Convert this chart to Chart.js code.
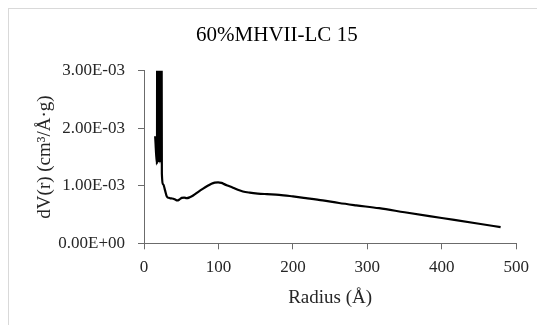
<!DOCTYPE html>
<html>
<head>
<meta charset="utf-8">
<script src="https://cdn.jsdelivr.net/npm/chart.js@4.4.0/dist/chart.umd.min.js"></script>
<style>
  html, body { margin: 0; padding: 0; background: #fff; }
  #wrap { position: relative; width: 537px; height: 325px; overflow: hidden; }
  #frame { position: absolute; left: 8px; top: 8px; width: 560px; height: 360px; border: 1px solid #d9d9d9; }
  #chart { position: absolute; left: 0; top: 0; }
</style>
</head>
<body>
<div id="wrap">
  <div id="frame"></div>
  <canvas id="chart" width="537" height="325"></canvas>
</div>
<script>
// pore radius (Å) and dV(r) (cm3/Å·g)
const radius = [15.0, 17.4, 18.0, 18.5, 19.0, 19.5, 20.0, 20.5, 21.0, 21.5, 22.0, 22.5, 23.0, 24.0, 26.0, 28.3, 30.6, 33.0, 36.5, 39.4, 42.0, 44.7, 47.5, 50.6, 54.0, 57.3, 61.5, 66.0, 72.5, 79.4, 85.0, 90.6, 95.0, 99.5, 104.0, 108.4, 114.0, 119.5, 126.0, 132.8, 142.0, 152.9, 165.0, 181.6, 200.0, 217.5, 240.0, 262.0, 285.0, 315.8, 350.0, 400.0, 450.0, 479.0];
const dV = [0.00186, 0.00137, 0.0080, 0.0014, 0.0080, 0.0015, 0.0080, 0.0014, 0.0080, 0.0015, 0.0080, 0.0014, 0.0080, 0.00121, 0.00102, 0.00092, 0.000815, 0.00079, 0.00078, 0.000775, 0.00076, 0.000745, 0.00076, 0.00079, 0.000795, 0.000785, 0.0008, 0.00083, 0.00089, 0.00095, 0.000995, 0.001036, 0.001055, 0.00106, 0.00105, 0.001024, 0.000995, 0.000966, 0.00093, 0.0009, 0.00088, 0.000865, 0.000855, 0.000843, 0.000815, 0.000785, 0.000745, 0.0007, 0.00066, 0.00061, 0.00054, 0.00044, 0.00034, 0.00028];
const xTicks = [0, 100, 200, 300, 400, 500];
const yTicks = [0, 0.001, 0.002, 0.003];

const textColor = '#262626';
const axisColor = '#6b6b6b';
const serif = "'Liberation Serif', 'DejaVu Serif', serif";

function sciLabel(v) {
    const parts = Number(v).toExponential(2).split('e');
    const exp = parts[1];
    return parts[0] + 'E' + exp[0] + exp.slice(1).padStart(2, '0');
}

const points = radius.map((r, i) => ({ x: r, y: dV[i] }));

new Chart(document.getElementById('chart').getContext('2d'), {
    type: 'scatter',
    data: {
        datasets: [{
            label: '60%MHVII-LC 15',
            data: points,
            showLine: true,
            borderColor: '#000',
            borderWidth: 2.2,
            pointRadius: 0,
            cubicInterpolationMode: 'monotone',
            clip: 0
        }]
    },
    options: {
        responsive: false,
        animation: false,
        // left padding keeps the title centred on the framed area like the original
        layout: { padding: { left: 36, right: 19.3, top: 0, bottom: 0 } },
        plugins: {
            legend: { display: false },
            tooltip: { enabled: false },
            title: {
                display: true,
                text: '60%MHVII-LC 15',
                color: '#000',
                font: { family: serif, size: 21, weight: 'normal', lineHeight: 1.2 },
                padding: { top: 23, bottom: 22.5 }
            }
        },
        scales: {
            x: {
                type: 'linear',
                min: xTicks[0],
                max: xTicks[xTicks.length - 1],
                afterBuildTicks: axis => { axis.ticks = xTicks.map(v => ({ value: v })); },
                afterFit: axis => { axis.height = 81.7; },
                grid: { drawOnChartArea: false, drawTicks: true, tickLength: 6, color: axisColor },
                border: { color: axisColor, width: 1 },
                ticks: { color: textColor, padding: 8, font: { family: serif, size: 17 } },
                title: {
                    display: true,
                    text: 'Radius (Å)',
                    color: textColor,
                    font: { family: serif, size: 19, lineHeight: 1.2 },
                    padding: { top: 0, bottom: 15.6 }
                }
            },
            y: {
                type: 'linear',
                min: yTicks[0],
                max: yTicks[yTicks.length - 1],
                afterBuildTicks: axis => { axis.ticks = yTicks.map(v => ({ value: v })); },
                afterFit: axis => { axis.width = 108; },
                grid: { drawOnChartArea: false, drawTicks: true, tickLength: 6, color: axisColor },
                border: { color: axisColor, width: 1 },
                ticks: {
                    color: textColor,
                    padding: 13,
                    font: { family: serif, size: 17 },
                    callback: v => sciLabel(v)
                },
                title: {
                    display: true,
                    text: 'dV(r) (cm³/Å·g)',
                    color: textColor,
                    font: { family: serif, size: 19, lineHeight: 1.2 },
                    padding: { top: -2.4, bottom: 0 }
                }
            }
        }
    }
});
</script>
</body>
</html>
